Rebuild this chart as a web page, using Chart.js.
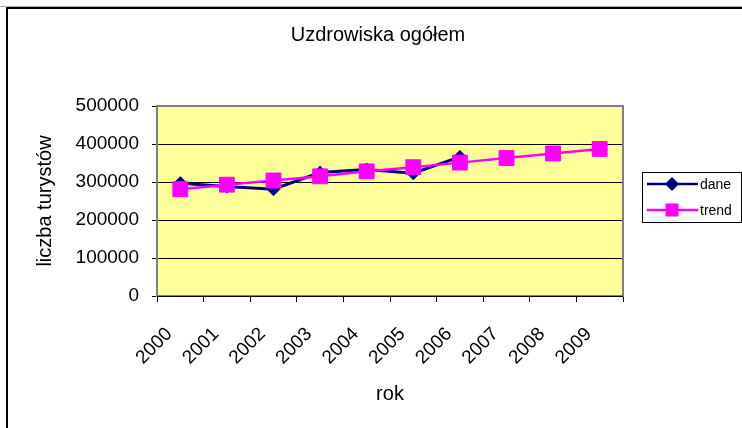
<!DOCTYPE html>
<html>
<head>
<meta charset="utf-8">
<script src="https://cdn.jsdelivr.net/npm/chart.js@4/dist/chart.umd.min.js"></script>
<style>
    html, body { margin: 0; padding: 0; background: #ffffff; }
    #chartBox { width: 742px; height: 428px; }
</style>
</head>
<body>
<div id="chartBox"><canvas id="myChart" width="742" height="428"></canvas></div>
<script>
// data
const chartTitle = 'Uzdrowiska ogółem';
const years = ['2000', '2001', '2002', '2003', '2004', '2005', '2006', '2007', '2008', '2009'];
const daneValues = [297000, 288000, 281000, 325000, 333000, 323000, 366000];
const trendValues = [281000, 293000, 304000, 315000, 328000, 339000, 351000, 363000, 375000, 387000];
const yTicks = [0, 100000, 200000, 300000, 400000, 500000];

const fontName = '"Liberation Sans", Arial, sans-serif';

// yellow plot area + grey frame, outer chart border
const plotFrame = {
    id: 'plotFrame',
    beforeDraw(chart) {
        const c = chart.ctx;
        const a = chart.chartArea;
        c.save();
        c.fillStyle = '#ffffff';
        c.fillRect(0, 0, chart.width, chart.height);
        // outer border
        c.strokeStyle = '#b0b0b0';
        c.lineWidth = 1;
        c.beginPath();
        c.moveTo(0, 6.5);
        c.lineTo(chart.width, 6.5);
        c.stroke();
        c.strokeStyle = '#000000';
        c.lineWidth = 2;
        c.beginPath();
        c.moveTo(7, chart.height);
        c.lineTo(7, 8);
        c.lineTo(chart.width, 8);
        c.stroke();
        c.fillStyle = '#ffff99';
        c.fillRect(a.left, a.top, a.right - a.left, a.bottom - a.top);
        c.restore();
    },
    beforeDatasetsDraw(chart) {
        const c = chart.ctx;
        const a = chart.chartArea;
        c.save();
        c.strokeStyle = '#808080';
        c.lineWidth = 2;
        c.strokeRect(a.left, a.top, a.right - a.left, a.bottom - a.top);
        c.strokeStyle = '#000000';
        c.lineWidth = 1;
        c.beginPath();
        c.moveTo(a.left, a.bottom + 0.5);
        c.lineTo(a.right, a.bottom + 0.5);
        c.stroke();
        c.restore();
    }
};

// title centred like in the excel chart (not over the plot)
const topTitle = {
    id: 'topTitle',
    afterDraw(chart) {
        const c = chart.ctx;
        c.save();
        c.fillStyle = '#000000';
        c.font = '20px ' + fontName;
        c.textAlign = 'center';
        c.textBaseline = 'middle';
        c.fillText(chartTitle, 378, 35);
        c.restore();
    }
};

// excel style legend box: line with marker in the middle
const boxLegend = {
    id: 'boxLegend',
    afterDraw(chart) {
        const c = chart.ctx;
        const box = { x: 642.5, y: 172.5, w: 99, h: 50 };
        c.save();
        c.fillStyle = '#ffffff';
        c.fillRect(box.x, box.y, box.w, box.h);
        c.strokeStyle = '#000000';
        c.lineWidth = 1;
        c.strokeRect(box.x, box.y, box.w, box.h);

        const rows = [
            { ds: chart.data.datasets[0], y: 184 },
            { ds: chart.data.datasets[1], y: 210 }
        ];
        rows.forEach(row => {
            const ds = row.ds;
            c.strokeStyle = ds.borderColor;
            c.lineWidth = 2.5;
            c.beginPath();
            c.moveTo(647, row.y);
            c.lineTo(698, row.y);
            c.stroke();
            c.fillStyle = ds.pointBackgroundColor;
            c.beginPath();
            if (ds.pointStyle === 'rectRot') {
                c.moveTo(672, row.y - 7);
                c.lineTo(679, row.y);
                c.lineTo(672, row.y + 7);
                c.lineTo(665, row.y);
            } else {
                c.rect(665.5, row.y - 6.5, 13, 13);
            }
            c.closePath();
            c.fill();
            c.fillStyle = '#000000';
            c.font = '14px ' + fontName;
            c.textBaseline = 'middle';
            c.textAlign = 'left';
            c.fillText(ds.label, 700, row.y + 1);
        });
        c.restore();
    }
};

const ctx = document.getElementById('myChart').getContext('2d');
const myChart = new Chart(ctx, {
    type: 'line',
    data: {
        labels: years,
        datasets: [{
            label: 'dane',
            data: daneValues,
            borderColor: '#000080',
            backgroundColor: '#000080',
            pointBackgroundColor: '#000080',
            pointBorderColor: '#000080',
            borderWidth: 3,
            pointStyle: 'rectRot',
            pointRadius: 6.5,
            pointBorderWidth: 1,
            tension: 0,
            order: 1
        }, {
            label: 'trend',
            data: trendValues,
            borderColor: '#ff00ff',
            backgroundColor: '#ff00ff',
            pointBackgroundColor: '#ff00ff',
            pointBorderColor: '#ff00ff',
            borderWidth: 2.5,
            pointStyle: 'rect',
            pointRadius: 10.5,
            pointBorderWidth: 1,
            tension: 0,
            order: 0
        }]
    },
    plugins: [plotFrame, topTitle, boxLegend],
    options: {
        responsive: false,
        animation: false,
        devicePixelRatio: 1,
        layout: { padding: { left: 0, top: 106, right: 119, bottom: 0 } },
        plugins: {
            legend: { display: false },
            tooltip: { enabled: false },
            title: { display: false }
        },
        scales: {
            x: {
                offset: true,
                afterFit(scale) { scale.height = 132; },
                grid: {
                    offset: true,
                    drawOnChartArea: false,
                    drawTicks: true,
                    tickLength: 6,
                    color: '#000000'
                },
                border: { display: false },
                ticks: {
                    color: '#000000',
                    font: { family: fontName, size: 19 },
                    maxRotation: 45,
                    minRotation: 45,
                    padding: 21,
                    labelOffset: -11,
                    autoSkip: false
                },
                title: {
                    display: true,
                    text: 'rok',
                    color: '#000000',
                    font: { family: fontName, size: 20 },
                    padding: { top: 0, bottom: 22 }
                }
            },
            y: {
                min: 0,
                max: 500000,
                afterFit(scale) { scale.width = 157; },
                afterBuildTicks(scale) { scale.ticks = yTicks.map(v => ({ value: v })); },
                grid: {
                    color: '#000000',
                    lineWidth: 1,
                    tickLength: 5
                },
                border: { display: false },
                ticks: {
                    color: '#000000',
                    font: { family: fontName, size: 19 },
                    padding: 13,
                    callback: function(value) {
                        return String(value);
                    }
                },
                title: {
                    display: true,
                    text: 'liczba turystów',
                    color: '#000000',
                    font: { family: fontName, size: 20 },
                    padding: { top: 33, bottom: 0 }
                }
            }
        }
    }
});
</script>
</body>
</html>
